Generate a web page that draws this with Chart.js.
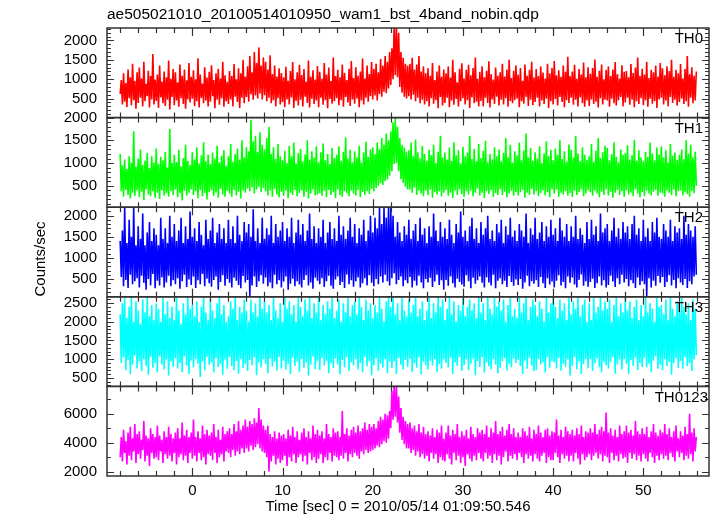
<!DOCTYPE html>
<html>
<head>
<meta charset="utf-8">
<script src="https://cdn.jsdelivr.net/npm/chart.js@4"></script>
<style>
  html, body { margin: 0; padding: 0; background: #fff; }
  #chart { display: block; }
</style>
</head>
<body>
<canvas id="chart" width="717" height="516"></canvas>
<script>
// light curve sampling: first bin time and bin step (sec)
const T0 = -8.0;
const DT = 0.125;

const th0 = [
  620,980,350,1150,420,900,280,1250,510,1050,330,1400,460,950,240,1180,
  390,1300,520,1020,300,1450,430,880,560,1220,270,1080,480,1650,350,990,
  440,1120,260,1350,530,940,380,1200,310,1050,470,1480,220,1010,540,1260,
  330,1180,450,920,290,1380,510,1090,360,1250,240,970,480,1420,400,1060,
  500,1230,310,1000,430,1540,270,1120,520,890,380,1310,450,1040,300,1190,
  420,1360,560,980,250,1150,470,1270,340,1020,510,1450,290,1100,430,930,
  360,1210,480,1080,300,1390,550,1000,410,1280,260,1150,520,1500,380,1070,
  540,1330,420,1600,610,1180,470,1700,580,1420,500,1820,630,1350,480,1560,
  590,1450,430,1250,520,1620,380,1130,460,1350,300,1070,510,1280,350,1160,
  410,1050,280,1320,480,960,350,1210,530,1440,260,1000,440,1180,320,1370,
  470,1110,300,1260,550,930,390,1480,270,1060,500,1230,360,990,450,1340,
  280,1190,520,1010,340,1420,460,1120,250,1300,490,950,370,1560,430,1080,
  510,1240,330,1050,460,1380,290,1160,540,980,400,1270,310,1470,480,1030,
  370,1310,500,1090,280,1200,450,1530,350,1020,520,1350,420,1130,560,1440,
  480,1260,580,1400,450,1180,620,1520,550,1350,680,1600,640,1450,760,1700,
  850,1800,1000,2400,1100,2400,1050,2200,800,1700,650,1550,550,1400,500,1350,
  560,1400,480,1550,600,1250,430,1380,520,1600,380,1200,470,1330,350,1150,
  430,1280,300,1090,510,1420,370,980,460,1200,250,1350,540,1060,320,1250,
  390,1150,520,1330,280,1040,450,1500,340,1180,490,920,300,1270,430,1410,
  510,1020,350,1240,460,1370,260,1100,530,1290,380,1560,420,1010,300,1190,
  440,1330,300,1050,520,1220,390,1460,270,1130,480,990,360,1300,550,1090,
  320,1180,470,1400,350,1070,510,1250,290,1500,440,1030,380,1220,460,1350,
  500,1120,280,1290,430,960,370,1380,540,1090,310,1240,470,1450,330,1040,
  410,1260,520,1080,300,1330,450,1170,360,1020,500,1400,260,1150,430,1290,
  350,1470,490,1100,320,1230,540,1060,410,1350,280,1190,460,1580,390,1080,
  520,1200,340,1370,470,1010,300,1260,530,1120,380,1430,290,1050,450,1310,
  310,1140,480,1290,360,1510,420,1060,270,1220,510,1380,350,1000,470,1240,
  450,1330,290,1080,500,1250,380,1440,320,1130,460,1020,540,1360,300,1190,
  400,1210,520,1050,340,1390,470,1160,280,1300,430,1560,360,1090,510,1270,
  330,1120,460,1450,290,1030,500,1240,370,1180,440,1350,260,1070,480,1420,
  520,1280,350,1100,450,1330,300,1210,540,1500,390,1060,470,1240,320,1150,
  410,1390,500,1020,360,1260,430,1600,290,1130,520,1310,380,1090,450,1200
];

const th1 = [
  1200,380,950,260,1080,410,870,300,1150,220,1010,350,1700,280,920,400,
  1100,250,1300,370,960,190,1050,420,1220,310,890,270,1150,380,1010,240,
  1320,350,980,210,1140,400,1060,290,1250,330,900,260,1750,380,1000,300,
  1180,420,1020,250,1290,340,930,180,1110,390,1400,280,1050,350,960,420,
  1240,300,1080,380,1350,230,990,410,1170,270,1460,340,1040,200,1190,360,
  980,400,1230,280,1100,350,1380,240,1020,430,1160,310,1280,260,940,390,
  1150,330,1420,260,1030,410,1200,290,1320,370,1080,220,1500,400,1120,350,
  1350,440,1260,380,1950,470,1480,330,1600,420,1250,480,1680,360,1400,450,
  1300,380,1550,290,1800,400,1200,260,1350,430,1090,310,1420,250,1150,370,
  1060,280,1270,390,1000,230,1380,350,1150,300,1450,410,990,270,1220,340,
  1310,400,1040,260,1190,370,1500,220,1080,330,1260,420,1120,290,1370,310,
  1020,340,1240,280,1430,390,1060,250,1200,410,980,300,1330,360,1110,230,
  1180,420,1370,300,1050,260,1250,380,1560,340,1100,270,1290,400,1020,330,
  1260,290,1120,410,1380,250,1010,360,1230,300,1470,380,1140,320,1300,430,
  1350,380,1200,450,1450,500,1300,560,1550,520,1400,600,1650,640,1500,720,
  1700,820,1900,980,2000,1000,1800,820,1550,650,1400,560,1350,480,1250,420,
  1280,420,1450,350,1150,460,1520,300,1240,400,1100,330,1380,270,1200,390,
  1050,300,1290,420,1170,240,1400,360,1000,310,1250,380,1600,270,1120,350,
  1230,410,1080,280,1340,350,1050,230,1460,390,1170,300,1280,420,990,320,
  1360,260,1150,380,1230,310,1600,400,1090,270,1310,350,1040,440,1420,290,
  1110,350,1270,230,1490,380,1020,320,1200,410,1080,260,1350,340,1150,300,
  1300,420,1040,300,1220,370,1550,250,1130,330,1400,390,1010,280,1260,360,
  1170,290,1450,360,1060,410,1280,240,1650,350,1120,300,1330,430,1050,310,
  1240,380,1100,270,1370,340,1000,400,1210,290,1480,360,1150,250,1290,420,
  1060,330,1320,420,1180,260,1500,350,1090,310,1260,380,1030,290,1410,340,
  1290,250,1120,390,1600,300,1210,360,1040,420,1350,270,1180,330,1070,400,
  1150,360,1420,280,1030,400,1270,330,1550,250,1110,370,1240,300,1380,420,
  1330,290,1060,370,1200,240,1460,350,1140,410,1020,300,1300,380,1180,260,
  1220,400,1390,310,1080,350,1170,270,1510,420,1050,330,1280,250,1120,360,
  1040,270,1250,400,1140,330,1450,290,1210,370,1060,410,1340,280,1190,350,
  1370,330,1120,260,1280,390,1010,350,1420,300,1160,420,1230,270,1070,380,
  1180,400,1300,290,1090,360,1500,320,1210,260,1400,380,1130,340,1250,500
];

const th2 = [
  1400,550,1650,330,2200,480,1350,290,1900,600,1500,380,2200,450,1300,520,
  1750,300,1450,580,2050,410,1300,250,1600,500,1850,350,1400,620,1700,280,
  1550,460,1300,350,1950,540,1450,300,1700,420,1350,580,2000,330,1500,470,
  1800,380,1400,520,1650,270,1950,450,1350,600,1750,310,1450,490,2100,360,
  1500,560,1700,290,1400,470,1850,380,1550,620,1300,330,1900,510,1450,400,
  1650,320,1950,480,1350,560,1600,250,1800,430,1450,590,1700,340,1350,500,
  1900,410,1450,300,1750,530,1350,460,2000,360,1550,280,1400,570,1850,420,
  1600,480,1800,100,1500,350,2150,560,1400,310,1700,450,1350,590,1950,390,
  1450,540,1700,330,1550,420,2000,280,1350,600,1800,380,1500,470,1650,300,
  1850,440,1400,560,1700,250,1500,390,1950,510,1350,330,1600,450,1900,370,
  1550,300,1800,480,1400,590,1650,350,2050,420,1450,270,1750,530,1350,460,
  1700,380,1500,520,1900,310,1350,450,1600,580,1850,340,1450,270,1700,490,
  1400,560,2000,360,1550,430,1750,290,1450,610,1650,380,1950,470,1500,320,
  1800,450,1350,540,1700,300,1550,400,1900,520,1400,350,1650,590,2000,410,
  1600,330,1950,500,1700,380,2200,560,1800,420,2200,600,1950,450,2200,350,
  2200,520,2000,640,1500,380,1850,480,1600,560,1400,330,1750,470,1550,400,
  1900,550,1450,300,1650,460,1800,350,1400,580,1950,420,1550,280,1700,500,
  1350,420,1750,530,1500,310,2050,440,1650,600,1400,360,1850,470,1500,250,
  1700,480,1450,340,1900,560,1550,400,1350,300,1800,510,1600,430,2100,370,
  1500,320,1650,590,1400,450,1750,280,1950,530,1450,390,1700,470,1350,560,
  1850,410,1550,300,1700,540,2000,420,1450,350,1650,600,1400,280,1800,460,
  1600,520,1900,380,1350,460,1750,310,1550,570,1950,430,1500,340,1650,490,
  1400,360,1800,500,1650,270,1500,420,2050,580,1350,330,1700,450,1550,390,
  1950,470,1450,310,1600,550,1850,400,1400,290,1750,520,1500,370,1900,440,
  1550,300,1700,460,1400,590,1950,350,1650,430,1500,280,1800,560,1400,410,
  1750,540,1500,370,2000,300,1450,480,1700,610,1550,340,1350,450,1850,320,
  1450,430,1900,510,1550,290,1750,400,1400,560,2050,350,1600,470,1700,300,
  1800,360,1400,580,1650,440,1950,310,1500,520,1700,380,1450,600,1850,420,
  1600,500,1750,330,1450,470,1800,400,2000,290,1550,540,1700,360,1400,450,
  1900,380,1500,100,1700,520,1400,300,1850,460,1600,340,1950,570,1500,410,
  1450,550,1800,310,1650,430,1500,590,1900,350,1400,480,1750,280,1600,520,
  1700,420,1450,360,2000,500,1550,290,1800,450,1650,380,1500,560,1750,600
];

const th3 = [
  2200,900,2500,1050,2650,700,2100,980,2400,600,2700,850,2000,1100,2550,750,
  2300,950,1950,680,2600,1000,2250,820,2700,580,2150,1050,2450,770,2050,900,
  2500,640,2350,1080,2000,860,2650,720,2200,990,2550,560,2100,940,2400,800,
  2050,1020,2700,750,2300,900,1950,650,2500,1070,2200,830,2650,600,2350,960,
  2450,780,2150,1000,2550,880,2000,520,2400,940,2700,700,2250,1060,2050,850,
  2600,920,2300,640,2100,1030,2500,790,2700,870,2200,580,2450,990,2000,740,
  2150,1060,2550,820,2350,700,2700,950,2050,610,2400,1000,2250,760,2600,880,
  2300,680,2000,980,2600,840,2250,1050,2500,570,2150,910,2700,780,2350,1000,
  2550,870,2250,620,2450,1010,2050,800,2650,930,2300,690,2100,1060,2500,750,
  2000,960,2700,720,2350,880,2550,600,2200,1040,2450,820,2000,940,2650,660,
  2400,1000,2150,770,2600,910,2300,560,2700,850,2100,1070,2500,730,2250,960,
  2650,700,2050,1030,2450,830,2200,950,2550,620,2350,890,2700,760,2100,1010,
  2300,860,2600,590,2000,980,2500,780,2250,1050,2650,680,2150,920,2450,830,
  2550,1000,2200,720,2700,900,2400,640,2050,1060,2600,810,2300,950,2500,570,
  2100,840,2450,1020,2250,690,2650,880,2350,780,2000,1000,2550,620,2700,930,
  2400,760,2700,940,2200,600,2500,1030,2050,850,2650,720,2300,980,2150,800,
  2600,1010,2250,660,2450,890,2700,770,2150,1050,2350,590,2550,930,2050,840,
  2300,720,2650,960,2100,830,2500,1000,2250,650,2700,870,2400,740,2600,990,
  2050,900,2350,780,2700,1040,2200,600,2550,910,2000,820,2450,1060,2300,680,
  2650,840,2150,990,2400,700,2600,880,2300,1020,2500,570,2100,950,2700,790,
  2250,1050,2500,640,2050,920,2700,810,2350,730,2200,1000,2650,860,2400,620,
  2550,770,2300,950,2600,1030,2000,690,2450,880,2700,780,2150,1010,2350,900,
  2100,980,2650,820,2250,600,2500,960,2700,740,2050,1040,2400,830,2600,680,
  2450,700,2150,1000,2550,860,2350,920,2000,640,2650,1050,2250,770,2500,950,
  2700,910,2400,750,2100,1030,2600,690,2300,880,2500,800,2050,990,2650,560,
  2200,820,2550,1060,2350,730,2700,940,2150,600,2450,870,2600,1000,2000,760,
  2500,1000,2050,680,2650,890,2250,1020,2400,780,2700,650,2300,930,2550,840,
  2350,750,2600,930,2000,1050,2450,610,2700,860,2150,990,2500,720,2250,1000,
  2650,880,2300,600,2550,970,2100,820,2400,1040,2600,700,2050,900,2450,790,
  2150,1030,2700,780,2250,880,2500,650,2350,960,2000,1070,2650,740,2400,850,
  2450,700,2200,1000,2600,820,2050,930,2700,580,2350,890,2150,1020,2550,760,
  2300,950,2650,740,2400,1060,2200,810,2500,900,2050,680,2600,990,2350,1100
];

const th0123 = [
  3000,4400,2700,4900,3300,4100,2500,4700,3100,5100,2800,4300,3400,5300,2600,4600,
  3200,4800,2900,4200,3500,5500,2700,4500,3100,4300,2400,5000,3300,4600,2900,4400,
  3000,5200,2800,4500,3400,4200,2600,4800,3200,4400,2900,5100,3100,4600,2700,4300,
  3300,4700,2500,5000,3000,4300,3200,5400,2800,4500,3100,4900,2600,4400,3300,4700,
  2900,5600,3100,4400,2700,4800,3300,4300,2800,5200,3000,4600,2500,4900,3200,4500,
  3100,4700,2800,5300,3300,4400,2600,4900,3000,4200,3200,5100,2700,4600,3400,4800,
  3300,5000,3000,4600,3500,5300,3100,4800,3400,5500,3200,4900,3600,5200,3300,5600,
  3600,5100,3400,5500,3800,5300,3500,5700,3700,5400,3900,6400,3600,5600,3400,5200,
  3300,4900,3000,5200,2000,4600,2700,4400,3100,4800,2500,4300,2900,4700,2600,4500,
  2800,4600,3100,4300,2400,4900,3000,4500,2700,5100,3200,4400,2600,4800,3000,4200,
  3200,4700,2700,5000,3100,4400,2500,4800,3300,4300,2800,5200,3000,4600,2600,4900,
  2900,4500,3200,4800,2600,4300,3000,5300,2800,4600,3300,4400,2700,5000,3100,4700,
  3000,4800,2800,4400,3100,6200,2900,4600,3300,5000,2700,4500,3200,4900,3000,5100,
  3300,4700,3100,5200,2900,4800,3400,5000,3200,5400,3500,4900,3300,5300,3400,5100,
  3500,5300,3600,5000,3800,5500,3700,5800,3900,5600,4100,6000,4000,5900,4300,6200,
  5000,7600,5600,8000,5800,8000,5400,7200,4700,6400,4200,5800,3900,5500,3600,5300,
  3600,5400,3300,5000,3500,5200,3100,4800,3400,5300,3000,4700,3200,5100,2900,4600,
  3100,4800,2700,4500,3300,5000,2900,4400,3200,4900,2600,4700,3000,5200,2800,4300,
  2700,4700,3200,5200,2900,4500,2500,4900,3300,4600,2800,5300,3100,4400,2600,4800,
  3000,4500,2400,4900,3200,4300,2900,5100,2700,4600,3100,4400,2800,5000,3300,4700,
  2900,4900,2700,4600,3300,5200,2900,4400,3100,5000,2600,4700,3200,5500,2800,4600,
  3100,4800,2500,5100,3000,4500,3400,4900,2700,5300,3100,4600,2900,5000,3200,4400,
  2800,4700,3300,4400,3000,5000,2600,4800,3200,4500,2900,5100,3100,4300,2700,4900,
  3200,4600,2900,5200,2700,4700,3100,4400,3300,4900,2600,5000,3000,4500,2800,4800,
  2800,4700,3300,5600,3000,4500,2600,4900,3200,4400,2900,5100,3100,4800,2700,4600,
  3100,4900,2700,4500,3300,5000,2900,4600,2500,5200,3200,4400,2800,4800,3000,4700,
  3200,5000,2800,4700,3100,5300,3300,4600,2900,4900,3200,5100,2700,4800,3100,6100,
  3000,4700,2600,5000,3300,4500,2800,4900,3100,4400,2700,5200,3200,4600,2900,4800,
  3000,5200,2600,4700,3300,4900,2900,4500,3200,5500,2800,4800,3100,4600,2700,5000,
  3200,4600,2900,5100,2700,4400,3300,4800,3000,5300,2600,4700,3100,4500,2800,4900,
  3200,4700,2900,5300,3100,4600,2800,5000,3300,4400,3000,4800,2700,5200,3400,4300,
  3000,4800,3300,4500,2800,5100,3100,4600,2900,6000,3200,4700,2700,5000,3400,4400
];

const channels = ['TH0', 'TH1', 'TH2', 'TH3', 'TH0123'];
const series = [th0, th1, th2, th3, th0123];
const yRanges = [[10, 2320], [30, 2000], [80, 2200], [270, 2670], [1700, 7900]];
const yTicks = [
  [500, 1000, 1500, 2000],
  [500, 1000, 1500, 2000],
  [500, 1000, 1500, 2000],
  [500, 1000, 1500, 2000, 2500],
  [2000, 4000, 6000]
];
const yMinor = [100, 100, 100, 100, 1000];
const xTicks = [0, 10, 20, 30, 40, 50];

const colors = ['#ff0000', '#00ff00', '#0000ff', '#00ffff', '#ff00ff'];
const FONT = '"Liberation Sans", Arial, sans-serif';
const TITLE = 'ae505021010_20100514010950_wam1_bst_4band_nobin.qdp';
const XTITLE = 'Time [sec] 0 = 2010/05/14 01:09:50.546';
const YTITLE = 'Counts/sec';

const scales = {
    x: {
        type: 'linear',
        position: 'bottom',
        min: -9.46,
        max: 57.28,
        grid: { display: false, drawTicks: false },
        border: { display: false },
        ticks: { font: { family: FONT, size: 15 }, color: '#000', padding: 6, maxRotation: 0, autoSkip: false },
        afterBuildTicks: s => { s.ticks = xTicks.map(v => ({ value: v })); },
        afterFit: s => { s.height = 40; }
    }
};
// stacked axes: the last one defined ends up on top, so add them bottom-up
for (let i = channels.length - 1; i >= 0; i--) {
    scales['y' + i] = {
        type: 'linear',
        position: 'left',
        stack: 'panels',
        stackWeight: 1,
        min: yRanges[i][0],
        max: yRanges[i][1],
        grid: { display: false, drawTicks: false },
        border: { display: false },
        ticks: {
            font: { family: FONT, size: 15 }, color: '#000', padding: 10, autoSkip: false,
            callback: v => String(v)
        },
        afterBuildTicks: s => { s.ticks = yTicks[i].map(v => ({ value: v })); },
        afterFit: s => { s.width = 107; }
    };
}

const panelFrames = {
    id: 'panelFrames',
    beforeDatasetDraw(chart, args) {
        const ds = chart.data.datasets[args.index];
        const ys = chart.scales[ds.yAxisID];
        const a = chart.chartArea;
        chart.ctx.save();
        chart.ctx.beginPath();
        chart.ctx.rect(a.left, ys.top, a.right - a.left, ys.bottom - ys.top);
        chart.ctx.clip();
    },
    afterDatasetDraw(chart) {
        chart.ctx.restore();
    },
    afterDraw(chart) {
        const ctx = chart.ctx;
        const a = chart.chartArea;
        const xs = chart.scales.x;
        ctx.save();
        ctx.strokeStyle = '#333';
        ctx.fillStyle = '#000';
        ctx.font = '15px ' + FONT;
        channels.forEach((name, i) => {
            const ys = chart.scales['y' + i];
            const step = yMinor[i];
            ctx.lineWidth = 1.2;
            ctx.beginPath();
            for (let v = Math.ceil(ys.min / step) * step; v <= ys.max; v += step) {
                const py = Math.round(ys.getPixelForValue(v)) + 0.5;
                const len = yTicks[i].includes(v) ? 7 : 4;
                ctx.moveTo(a.left, py); ctx.lineTo(a.left + len, py);
                ctx.moveTo(a.right, py); ctx.lineTo(a.right - len, py);
            }
            for (let v = -8; v <= 56; v += 2) {
                const px = Math.round(xs.getPixelForValue(v)) + 0.5;
                const len = v % 10 === 0 ? 8 : 5;
                ctx.moveTo(px, ys.top); ctx.lineTo(px, ys.top + len);
                ctx.moveTo(px, ys.bottom); ctx.lineTo(px, ys.bottom - len);
            }
            ctx.stroke();
            ctx.lineWidth = 1.5;
            ctx.strokeRect(a.left, ys.top, a.right - a.left, ys.bottom - ys.top);
            ctx.textAlign = 'right';
            ctx.textBaseline = 'middle';
            ctx.fillText(name, name === 'TH0123' ? a.right - 1 : a.right - 6, ys.top + 11);
        });
        ctx.textAlign = 'left';
        ctx.font = '15.5px ' + FONT;
        ctx.fillText(TITLE, a.left, 15);
        ctx.font = '15px ' + FONT;
        ctx.textAlign = 'center';
        ctx.fillText(XTITLE, 398, 507);
        ctx.translate(41, 259);
        ctx.rotate(-Math.PI / 2);
        ctx.fillText(YTITLE, 0, 0);
        ctx.restore();
    }
};

new Chart(document.getElementById('chart'), {
    type: 'line',
    data: {
        datasets: series.map((vals, i) => ({
            label: channels[i],
            yAxisID: 'y' + i,
            data: vals.map((v, k) => ({ x: T0 + k * DT, y: v })),
            borderColor: colors[i],
            borderWidth: 1.6,
            borderJoinStyle: 'bevel',
            pointRadius: 0,
            tension: 0,
            fill: false
        }))
    },
    options: {
        responsive: false,
        devicePixelRatio: 1,
        animation: false,
        layout: { padding: { top: 28, right: 8, bottom: 0, left: 0 } },
        plugins: { legend: { display: false }, title: { display: false }, tooltip: { enabled: false } },
        scales: scales
    },
    plugins: [panelFrames]
});
</script>
</body>
</html>
